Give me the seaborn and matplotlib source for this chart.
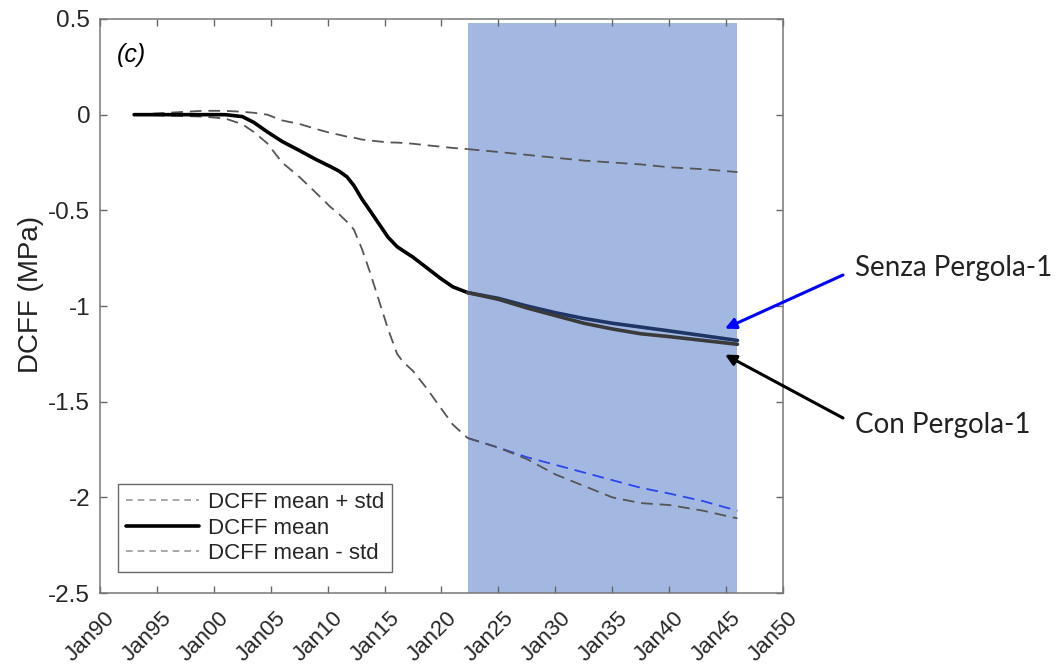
import matplotlib
matplotlib.use("Agg")
import matplotlib.pyplot as plt
import matplotlib.transforms as mtransforms
import pandas as pd
import seaborn as sns
from matplotlib.lines import Line2D

# historical part (shared by both scenarios)
hist_years = [1993, 1996, 1999, 2001, 2002.5, 2003.5, 2004.7, 2006, 2007.6, 2009,
              2010.2, 2011, 2011.7, 2012.3, 2013, 2013.7, 2014.5, 2015.3, 2016.1,
              2016.6, 2017.5, 2018.7, 2019.9, 2021, 2022.3]
mean_hist = [0.0, 0.0, 0.0, 0.0, -0.01, -0.04, -0.09, -0.14, -0.19, -0.235,
             -0.27, -0.295, -0.325, -0.37, -0.44, -0.50, -0.57, -0.64, -0.69,
             -0.71, -0.745, -0.80, -0.855, -0.90, -0.93]
upper_hist = [0.0, 0.01, 0.02, 0.02, 0.015, 0.01, 0.0, -0.03, -0.05, -0.075,
              -0.095, -0.105, -0.115, -0.12, -0.13, -0.135, -0.14, -0.145, -0.146,
              -0.148, -0.152, -0.16, -0.167, -0.174, -0.18]
lower_hist = [0.0, -0.005, -0.01, -0.02, -0.05, -0.09, -0.15, -0.25, -0.33, -0.41,
              -0.48, -0.52, -0.56, -0.60, -0.70, -0.82, -0.97, -1.12, -1.25,
              -1.29, -1.34, -1.43, -1.53, -1.62, -1.69]

# projection period
proj_years = [2022.3, 2025, 2027.5, 2030, 2032.5, 2035, 2037.5, 2040, 2043, 2046]
mean_con = [-0.93, -0.965, -1.01, -1.05, -1.09, -1.12, -1.145, -1.16, -1.18, -1.20]
mean_senza = [-0.93, -0.96, -1.00, -1.035, -1.065, -1.09, -1.11, -1.13, -1.155, -1.18]
upper_proj = [-0.18, -0.195, -0.21, -0.225, -0.24, -0.25, -0.26, -0.275, -0.285, -0.30]
lower_con = [-1.69, -1.74, -1.80, -1.88, -1.94, -2.00, -2.03, -2.04, -2.07, -2.11]
lower_senza = [-1.69, -1.74, -1.79, -1.83, -1.87, -1.91, -1.95, -1.98, -2.02, -2.07]

proj_start, proj_end = 2022.3, 2046.0

xtick_years = list(range(1990, 2051, 5))
xtick_labels = ["Jan90", "Jan95", "Jan00", "Jan05", "Jan10", "Jan15", "Jan20",
                "Jan25", "Jan30", "Jan35", "Jan40", "Jan45", "Jan50"]
ytick_vals = [-2.5, -2, -1.5, -1, -0.5, 0, 0.5]
ytick_labels = ["-2.5", "-2", "-1.5", "-1", "-0.5", "0", "0.5"]

sns.set_theme(style="ticks")
plt.rcParams['font.family'] = ['Liberation Sans', 'DejaVu Sans']

fig = plt.figure(figsize=(10.59, 6.71), dpi=100)
ax = fig.add_axes([0.0944, 0.1162, 0.645, 0.8555])

# projection window
ax.axvspan(proj_start, proj_end, ymin=0, ymax=(0.478 + 2.5) / 3.0,
           color="#A2B8E0", lw=0, zorder=0)

dash = (0, (6.5, 3.8))
grey = "#555555"


def draw(xs, ys, **kw):
    d = pd.DataFrame({"year": xs, "value": ys})
    sns.lineplot(data=d, x="year", y="value", ax=ax, sort=False,
                 estimator=None, legend=False, **kw)


draw(hist_years, upper_hist, color=grey, lw=1.3, linestyle=dash)
draw(hist_years, lower_hist, color=grey, lw=1.3, linestyle=dash)
draw(hist_years, mean_hist, color="black", lw=2.6)

draw(proj_years, upper_proj, color=grey, lw=1.3, linestyle=dash)
draw(proj_years, lower_senza, color="#2B45F0", lw=1.3, linestyle=dash)
draw(proj_years, lower_con, color=grey, lw=1.3, linestyle=dash)
draw(proj_years, mean_senza, color="#1F3566", lw=2.6)
draw(proj_years, mean_con, color="#3A3A3A", lw=2.6)

ax.set_xlim(1990, 2050)
ax.set_ylim(-2.5, 0.5)
ax.set_xticks(xtick_years)
ax.set_xticklabels(xtick_labels, rotation=45, ha="right", va="center",
                   rotation_mode="anchor")
ax.set_yticks(ytick_vals)
ax.set_yticklabels(ytick_labels)
ax.set_xlabel("")
ax.set_ylabel("DCFF (MPa)", fontsize=20, color="#222222")
ax.yaxis.set_label_coords(-0.082, 0.52)

ax.tick_params(direction="in", top=True, right=True, length=5, width=1,
               color="#666666", labelsize=17.5, labelcolor="#262626")
ax.tick_params(axis="x", pad=16, labelsize=16)
ax.tick_params(axis="y", pad=7)
shift = mtransforms.ScaledTranslation(12 / 100, 0, fig.dpi_scale_trans)
for lab in ax.get_xticklabels():
    lab.set_transform(lab.get_transform() + shift)
for s in ax.spines.values():
    s.set_color("#777777")
    s.set_linewidth(1.1)

ax.text(0.025, 0.937, "(c)", transform=ax.transAxes, fontsize=18,
        style="italic", va="center", ha="left", color="black")

handles = [
    Line2D([], [], color="#9a9a9a", lw=1.2, linestyle=(0, (4, 3))),
    Line2D([], [], color="black", lw=2.6),
    Line2D([], [], color="#9a9a9a", lw=1.2, linestyle=(0, (4, 3))),
]
labels = ["DCFF mean + std", "DCFF mean", "DCFF mean - std"]
leg = ax.legend(handles, labels, loc="lower left", bbox_to_anchor=(0.026, 0.037),
                borderaxespad=0, fontsize=16, handlelength=3.3, handletextpad=0.4,
                labelspacing=0.2, fancybox=False, frameon=True, borderpad=0.35)
leg.get_frame().set_edgecolor("#444444")
leg.get_frame().set_linewidth(1.0)

# scenario labels with arrows
ax.annotate("", xy=(2044.9, -1.118), xycoords="data",
            xytext=(843 / 1059, 1 - 275 / 671), textcoords="figure fraction",
            arrowprops=dict(arrowstyle="-|>", color="blue", lw=2.2, mutation_scale=16,
                            shrinkA=0, shrinkB=0))
ax.annotate("", xy=(2044.9, -1.254), xycoords="data",
            xytext=(843 / 1059, 1 - 418 / 671), textcoords="figure fraction",
            arrowprops=dict(arrowstyle="-|>", color="black", lw=2.2, mutation_scale=16,
                            shrinkA=0, shrinkB=0))
fig.text(855 / 1059, 1 - 268 / 671, "Senza Pergola-1", fontsize=20,
         family=["Lato", "DejaVu Sans"], color="#222222", va="center", ha="left")
fig.text(855 / 1059, 1 - 425 / 671, "Con Pergola-1", fontsize=20,
         family=["Lato", "DejaVu Sans"], color="#222222", va="center", ha="left")

fig.savefig("out.png", dpi=100)
